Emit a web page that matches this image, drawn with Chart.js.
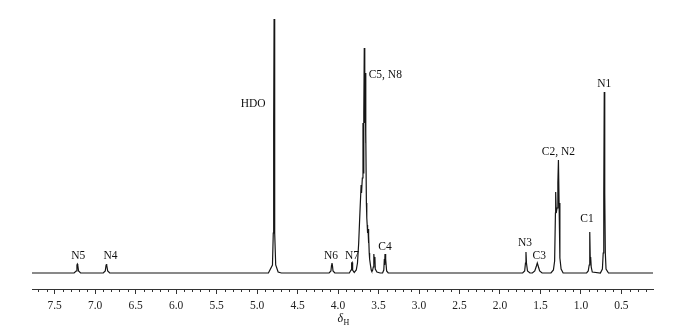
<!DOCTYPE html>
<html>
<head>
<meta charset="utf-8">
<script src="https://cdn.jsdelivr.net/npm/chart.js@4/dist/chart.umd.min.js"></script>
<style>
  html, body { margin: 0; padding: 0; background: #fff; }
</style>
</head>
<body>
<canvas id="nmr" width="676" height="332"></canvas>
<script>
// 1H trace: chemical shift (ppm) and intensity
const shifts = [
  7.78, 7.26, 7.235, 7.225, 7.22, 7.215, 7.205, 7.18,
  6.90, 6.875, 6.865, 6.86, 6.855, 6.845, 6.82,
  4.86, 4.81, 4.80, 4.795, 4.79, 4.785, 4.78, 4.77, 4.74, 4.70,
  4.11, 4.088, 4.08, 4.075, 4.07, 4.062, 4.04,
  3.86, 3.84, 3.832, 3.826, 3.82, 3.80,
  3.775, 3.76, 3.745, 3.73, 3.715, 3.71, 3.70, 3.692, 3.688, 3.682,
  3.676, 3.67, 3.665, 3.66, 3.655, 3.65, 3.645, 3.64, 3.635, 3.63,
  3.625, 3.62, 3.615, 3.61, 3.60, 3.59, 3.585,
  3.575, 3.565, 3.56, 3.556, 3.55, 3.545, 3.54, 3.52, 3.48,
  3.45, 3.435, 3.428, 3.424, 3.42, 3.414, 3.41, 3.40, 3.38,
  1.72, 1.695, 1.685, 1.679, 1.673, 1.66, 1.63,
  1.60, 1.57, 1.55, 1.539, 1.528, 1.51, 1.48,
  1.37, 1.34, 1.325, 1.315, 1.312, 1.305, 1.295, 1.285, 1.278, 1.27, 1.26, 1.245, 1.22,
  0.93, 0.91, 0.898, 0.893, 0.889, 0.885, 0.88, 0.873, 0.86,
  0.76, 0.735, 0.725, 0.718, 0.712, 0.706, 0.699, 0.69, 0.66,
  0.11
];
const intensities = [
  0, 0, 2, 8, 9, 8, 2, 0,
  0, 2, 8, 9, 8, 2, 0,
  0, 8, 40, 150, 254, 150, 40, 8, 1, 0,
  0, 2, 8, 10, 8, 2, 0,
  0, 3, 10, 10.5, 3, 0.5,
  3, 10, 30, 60, 88, 80, 95, 150, 100, 160,
  225, 150, 200, 130, 140, 70, 55, 48, 40, 44,
  30, 38, 20, 14, 8, 3, 2,
  2, 6, 18, 19, 10, 16, 4, 1, 0,
  0, 3, 14, 8, 19, 10, 14, 2, 0,
  0, 2, 10, 21, 10, 2, 0,
  0, 2, 7, 10, 7, 2, 0,
  0, 3, 12, 60, 81, 60, 65, 90, 113, 70, 15, 4, 0,
  0, 2, 8, 16, 41, 14, 16, 6, 1,
  0, 4, 20, 80, 181, 80, 20, 4, 0,
  0
];

// peak assignments
const peakLabels = ['N5', 'N4', 'HDO', 'N6', 'N7', 'C5, N8', 'C4', 'N3', 'C3', 'C2, N2', 'C1', 'N1'];
const peakShifts = [7.22, 6.86, 4.79, 4.075, 3.828, 3.676, 3.42, 1.679, 1.539, 1.278, 0.889, 0.712];
const peakHeights = [9, 9, 254, 10, 10.5, 225, 19, 21, 10, 113, 41, 181];

// axis tick labels
const tickValues = [7.5, 7.0, 6.5, 6.0, 5.5, 5.0, 4.5, 4.0, 3.5, 3.0, 2.5, 2.0, 1.5, 1.0, 0.5];

// where each label sits relative to its peak top (px)
const labelShift = [[1, -8], [4, -8], [-21, 85], [-1, -7], [0, -7], [21, 27], [0, -7],
                    [-1, -9], [2, -7], [0, -8], [-3, -13], [0, -8]];

const serif = '"Liberation Serif", "Times New Roman", serif';

const annotate = {
  id: 'annotate',
  afterDraw(chart) {
    const { ctx, scales: { x, y } } = chart;
    ctx.save();
    ctx.fillStyle = '#111';
    ctx.font = '11.5px ' + serif;
    ctx.textAlign = 'center';
    ctx.textBaseline = 'middle';
    peakLabels.forEach((name, i) => {
      const px = x.getPixelForValue(peakShifts[i]) + labelShift[i][0];
      const py = y.getPixelForValue(peakHeights[i]) + labelShift[i][1];
      ctx.fillText(name, px, py);
    });

    // minor ticks every 0.1 ppm
    ctx.strokeStyle = '#333';
    ctx.lineWidth = 1;
    const base = x.top;
    ctx.beginPath();
    for (let k = 2; k <= 77; k++) {
      if (k % 5 === 0) continue;
      const xp = Math.round(x.getPixelForValue(k / 10)) + 0.5;
      ctx.moveTo(xp, base);
      ctx.lineTo(xp, base + 3);
    }
    ctx.stroke();

    // axis title: delta with subscript H
    const cx = (x.left + x.right) / 2;
    ctx.textAlign = 'left';
    ctx.font = 'italic 12px ' + serif;
    ctx.fillText('δ', cx - 5, 319);
    ctx.font = '8px ' + serif;
    ctx.fillText('H', cx + 1, 323);
    ctx.restore();
  }
};

new Chart(document.getElementById('nmr'), {
  type: 'line',
  data: {
    datasets: [{
      data: shifts.map((s, i) => ({ x: s, y: intensities[i] })),
      borderColor: '#151515',
      borderWidth: 1.2,
      pointRadius: 0,
      tension: 0,
      fill: false
    }]
  },
  options: {
    responsive: false,
    animation: false,
    layout: { padding: { left: 32, right: 23, top: 10, bottom: 0 } },
    plugins: { legend: { display: false }, tooltip: { enabled: false } },
    scales: {
      x: {
        type: 'linear',
        reverse: true,
        min: 0.11,
        max: 7.78,
        afterBuildTicks: s => { s.ticks = tickValues.map(v => ({ value: v })); },
        afterFit: s => { s.height = 43; },
        grid: { drawOnChartArea: false, tickLength: 5, tickColor: '#333' },
        border: { display: true, color: '#333', width: 1 },
        ticks: {
          font: { family: serif, size: 11.5 },
          color: '#222',
          padding: 5,
          maxRotation: 0,
          autoSkip: false,
          callback: v => v.toFixed(1)
        }
      },
      y: { display: false, min: -16, max: 263 }
    }
  },
  plugins: [annotate]
});
</script>
</body>
</html>
